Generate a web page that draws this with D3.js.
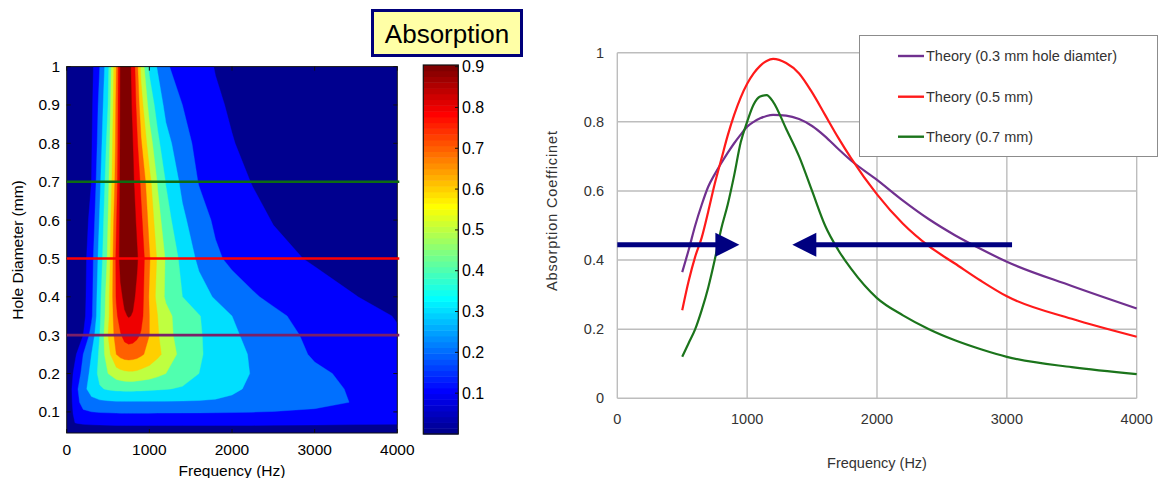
<!DOCTYPE html>
<meta charset="utf-8">
<style>
body { margin: 0; background: #fff; }
text { font-family: "Liberation Sans", Arial, sans-serif; }
</style>
<svg width="1159" height="478"></svg>
<script src="https://cdn.jsdelivr.net/npm/d3@7/dist/d3.min.js"></script>
<script>

// ---- contour map: absorption, rows = hole diameter (mm), columns = frequency (Hz)
var mapFreqs = [0, 100, 200, 300, 400, 500, 600, 650, 700, 750, 800, 850, 900, 1000, 1100, 1200, 1400, 1600, 1800, 2000, 2250, 2500, 3000, 3500, 4000];
var mapDiams = [0.045, 0.07, 0.095, 0.125, 0.16, 0.2, 0.25, 0.3, 0.35, 0.4, 0.5, 0.6, 0.7, 0.8, 0.9, 1.0];
var mapValues = [
  [0, 0.04, 0.055, 0.06, 0.06, 0.062, 0.063, 0.063, 0.064, 0.064, 0.064, 0.064, 0.064, 0.064, 0.064, 0.064, 0.063, 0.063, 0.063, 0.062, 0.062, 0.061, 0.06, 0.058, 0.056],
  [0, 0.098, 0.105, 0.107, 0.108, 0.109, 0.11, 0.11, 0.11, 0.11, 0.11, 0.11, 0.11, 0.11, 0.11, 0.11, 0.11, 0.11, 0.11, 0.11, 0.11, 0.109, 0.108, 0.106, 0.104],
  [0, 0.13, 0.175, 0.185, 0.19, 0.192, 0.194, 0.195, 0.195, 0.195, 0.195, 0.195, 0.195, 0.195, 0.194, 0.194, 0.193, 0.192, 0.191, 0.19, 0.188, 0.186, 0.18, 0.172, 0.163],
  [0, 0.15, 0.24, 0.27, 0.28, 0.285, 0.29, 0.29, 0.29, 0.29, 0.29, 0.29, 0.29, 0.29, 0.29, 0.29, 0.29, 0.29, 0.288, 0.282, 0.27, 0.255, 0.225, 0.195, 0.17],
  [0, 0.16, 0.27, 0.34, 0.39, 0.41, 0.42, 0.42, 0.425, 0.425, 0.425, 0.42, 0.42, 0.415, 0.41, 0.405, 0.39, 0.365, 0.34, 0.315, 0.285, 0.26, 0.225, 0.19, 0.17],
  [0, 0.13, 0.23, 0.33, 0.43, 0.5, 0.55, 0.565, 0.575, 0.58, 0.58, 0.575, 0.565, 0.55, 0.525, 0.5, 0.45, 0.4, 0.36, 0.33, 0.295, 0.265, 0.215, 0.18, 0.16],
  [0, 0.08, 0.2, 0.3, 0.42, 0.56, 0.7, 0.73, 0.745, 0.75, 0.745, 0.735, 0.715, 0.67, 0.62, 0.575, 0.46, 0.41, 0.37, 0.33, 0.29, 0.25, 0.19, 0.15, 0.12],
  [0, 0.04, 0.1, 0.24, 0.4, 0.6, 0.74, 0.79, 0.83, 0.845, 0.84, 0.82, 0.79, 0.7, 0.61, 0.54, 0.45, 0.41, 0.36, 0.315, 0.275, 0.235, 0.18, 0.135, 0.105],
  [0, 0.035, 0.07, 0.18, 0.38, 0.57, 0.78, 0.85, 0.89, 0.905, 0.895, 0.87, 0.83, 0.7, 0.6, 0.53, 0.45, 0.405, 0.35, 0.3, 0.26, 0.22, 0.16, 0.12, 0.097],
  [0, 0.03, 0.065, 0.17, 0.37, 0.56, 0.81, 0.88, 0.92, 0.93, 0.915, 0.885, 0.845, 0.69, 0.565, 0.485, 0.4, 0.34, 0.29, 0.245, 0.21, 0.18, 0.13, 0.101, 0.08],
  [0, 0.025, 0.06, 0.16, 0.34, 0.52, 0.82, 0.93, 0.96, 0.965, 0.95, 0.91, 0.86, 0.71, 0.585, 0.49, 0.37, 0.28, 0.215, 0.18, 0.15, 0.12, 0.092, 0.075, 0.064],
  [0, 0.02, 0.05, 0.13, 0.31, 0.5, 0.79, 0.925, 0.955, 0.955, 0.935, 0.885, 0.82, 0.67, 0.54, 0.44, 0.32, 0.24, 0.185, 0.152, 0.12, 0.097, 0.079, 0.066, 0.056],
  [0, 0.015, 0.04, 0.1, 0.28, 0.47, 0.75, 0.92, 0.95, 0.94, 0.915, 0.86, 0.78, 0.63, 0.49, 0.395, 0.275, 0.195, 0.155, 0.124, 0.097, 0.085, 0.068, 0.055, 0.047],
  [0, 0.013, 0.037, 0.09, 0.25, 0.44, 0.73, 0.917, 0.95, 0.937, 0.9, 0.817, 0.71, 0.547, 0.423, 0.333, 0.238, 0.172, 0.136, 0.103, 0.083, 0.076, 0.062, 0.051, 0.043],
  [0, 0.012, 0.033, 0.08, 0.23, 0.4, 0.72, 0.913, 0.95, 0.933, 0.885, 0.773, 0.64, 0.463, 0.357, 0.272, 0.2, 0.148, 0.11, 0.092, 0.08, 0.07, 0.056, 0.046, 0.04],
  [0, 0.01, 0.03, 0.07, 0.2, 0.37, 0.7, 0.91, 0.95, 0.93, 0.87, 0.73, 0.57, 0.38, 0.29, 0.21, 0.165, 0.125, 0.097, 0.085, 0.072, 0.063, 0.05, 0.042, 0.036]
];
var mapLevels = [0.1, 0.2, 0.3, 0.4, 0.5, 0.6, 0.7, 0.8, 0.9];
var mapTicksX = [0, 1000, 2000, 3000, 4000];
var mapTicksY = [0.1, 0.2, 0.3, 0.4, 0.5, 0.6, 0.7, 0.8, 0.9, 1];
var cbarTicks = [0.1, 0.2, 0.3, 0.4, 0.5, 0.6, 0.7, 0.8, 0.9];
var cbarMax = 0.904;
var markedDiams = [0.7, 0.5, 0.3];
var markedColors = ["#0d6b12", "#ff0000", "#7a2068"];

// ---- theory curves
var curveFreqs = [500, 550, 600, 650, 700, 750, 800, 850, 900, 950, 1000, 1050, 1100, 1150, 1200, 1300, 1400, 1500, 1600, 1700, 1800, 2000, 2200, 2400, 2600, 2800, 3000, 3500, 4000];
var theory03 = [0.365, 0.43, 0.5, 0.56, 0.612, 0.648, 0.68, 0.71, 0.738, 0.763, 0.786, 0.8, 0.81, 0.817, 0.82, 0.818, 0.808, 0.788, 0.758, 0.722, 0.688, 0.632, 0.572, 0.518, 0.472, 0.432, 0.395, 0.325, 0.26];
var theory05 = [0.255, 0.34, 0.41, 0.465, 0.54, 0.62, 0.69, 0.76, 0.82, 0.87, 0.91, 0.94, 0.962, 0.976, 0.982, 0.97, 0.94, 0.885, 0.82, 0.755, 0.695, 0.59, 0.505, 0.44, 0.39, 0.34, 0.295, 0.23, 0.178];
var theory07 = [0.12, 0.16, 0.2, 0.255, 0.32, 0.4, 0.49, 0.56, 0.645, 0.74, 0.8, 0.85, 0.873, 0.877, 0.858, 0.78, 0.7, 0.6, 0.5, 0.43, 0.375, 0.29, 0.24, 0.2, 0.168, 0.142, 0.12, 0.09, 0.07];
var seriesNames = ["Theory (0.3 mm hole diamter)", "Theory (0.5 mm)", "Theory (0.7 mm)"];
var seriesColors = ["#70308f", "#ff1a1a", "#1b741b"];
var lineTicksX = [0, 1000, 2000, 3000, 4000];
var lineTicksY = [0, 0.2, 0.4, 0.6, 0.8, 1];
var arrows = [{from: 0, to: 940, alpha: 0.444}, {from: 3040, to: 1348, alpha: 0.444}];

var svg = d3.select("svg");

// matlab jet(64)
function jet64() {
  var n = 16, u = [], i, k, map = [];
  for (i = 1; i <= n; i++) u.push(i / n);
  for (i = 1; i < n; i++) u.push(1);
  for (i = n; i >= 1; i--) u.push(i / n);
  for (k = 1; k <= 64; k++) {
    var r = k >= 25 ? u[k - 25] : 0;
    var g = (k >= 9 && k <= 55) ? u[k - 9] : 0;
    var b = k <= 39 ? u[k + 7] : 0;
    map.push(d3.rgb(r * 255, g * 255, b * 255).formatHex());
  }
  return map;
}
var jet = jet64();
function jetColor(v) { return jet[Math.max(0, Math.min(63, Math.floor(v / cbarMax * 64)))]; }

//-------------LEFT: CONTOUR MAP-------------------------
var xMap = d3.scaleLinear().domain([0, 4000]).range([66.7, 397.3]);
var yMap = d3.scaleLinear().domain([0.045, 1]).range([433, 66.6]);
var nx = mapFreqs.length, ny = mapDiams.length;
var colFreq = d3.scaleLinear().domain(d3.range(nx)).range(mapFreqs).clamp(true);
var rowDiam = d3.scaleLinear().domain(d3.range(ny)).range(mapDiams).clamp(true);

svg.append("clipPath").attr("id", "mapclip")
   .append("rect")
   .attr("x", xMap(0)).attr("y", yMap(1))
   .attr("width", xMap(4000) - xMap(0)).attr("height", yMap(0.045) - yMap(1));

var mapG = svg.append("g").attr("clip-path", "url(#mapclip)");
mapG.append("rect")
    .attr("x", xMap(0)).attr("y", yMap(1))
    .attr("width", xMap(4000) - xMap(0)).attr("height", yMap(0.045) - yMap(1))
    .attr("fill", jetColor(0));

var flat = [];
mapValues.forEach(function(row) { row.forEach(function(v) { flat.push(v); }); });
var bands = d3.contours().size([nx, ny]).thresholds(mapLevels)(flat);

function toPlot(p) { return [xMap(colFreq(p[0] - 0.5)), yMap(rowDiam(p[1] - 0.5))]; }
var path = d3.geoPath();

mapG.selectAll("path.band")
    .data(bands)
    .enter().append("path")
    .attr("class", "band")
    .attr("fill", function(d) { return jetColor(d.value); })
    .attr("stroke", function(d) { return jetColor(d.value); })
    .attr("stroke-width", 0.4)
    .attr("d", function(d) {
      var geom = {type: "MultiPolygon", coordinates: d.coordinates.map(function(poly) {
        return poly.map(function(ring) { return ring.map(toPlot); });
      })};
      return path(geom);
    });

// frame + inward ticks
svg.append("rect")
   .attr("x", xMap(0)).attr("y", yMap(1))
   .attr("width", xMap(4000) - xMap(0)).attr("height", yMap(0.045) - yMap(1))
   .attr("fill", "none").attr("stroke", "#111").attr("stroke-width", 1);

mapTicksX.forEach(function(t) {
  svg.append("line").attr("x1", xMap(t)).attr("x2", xMap(t)).attr("y1", yMap(0.045)).attr("y2", yMap(0.045) - 4).attr("stroke", "#111");
  svg.append("line").attr("x1", xMap(t)).attr("x2", xMap(t)).attr("y1", yMap(1)).attr("y2", yMap(1) + 4).attr("stroke", "#111");
  svg.append("text").attr("x", xMap(t)).attr("y", 455).attr("text-anchor", "middle")
     .attr("font-size", "15.5px").text(t);
});
mapTicksY.forEach(function(t) {
  svg.append("line").attr("x1", xMap(0)).attr("x2", xMap(0) + 4).attr("y1", yMap(t)).attr("y2", yMap(t)).attr("stroke", "#111");
  svg.append("line").attr("x1", xMap(4000)).attr("x2", xMap(4000) - 4).attr("y1", yMap(t)).attr("y2", yMap(t)).attr("stroke", "#111");
  svg.append("text").attr("x", 60).attr("y", yMap(t) + 5.5).attr("text-anchor", "end")
     .attr("font-size", "15.5px").text(t);
});

// marked hole diameters
svg.selectAll("line.mark")
   .data(markedDiams)
   .enter().append("line")
   .attr("class", "mark")
   .attr("x1", xMap(0)).attr("x2", xMap(4000) + 2)
   .attr("y1", function(d) { return yMap(d); })
   .attr("y2", function(d) { return yMap(d); })
   .attr("stroke", function(d, i) { return markedColors[i]; })
   .attr("stroke-width", 2.6);

svg.append("text").attr("x", 232).attr("y", 475.5).attr("text-anchor", "middle")
   .attr("font-size", "15.5px").text("Frequency (Hz)");
svg.append("text").attr("transform", "translate(23,250) rotate(-90)").attr("text-anchor", "middle")
   .attr("font-size", "15.5px").text("Hole Diameter (mm)");

// colorbar
var cScale = d3.scaleLinear().domain([0, cbarMax]).range([434, 65]);
svg.selectAll("rect.cb")
   .data(jet)
   .enter().append("rect")
   .attr("class", "cb")
   .attr("x", 423.3).attr("width", 35)
   .attr("y", function(d, i) { return cScale((i + 1) * cbarMax / 64); })
   .attr("height", function(d, i) { return cScale(i * cbarMax / 64) - cScale((i + 1) * cbarMax / 64) + 0.5; })
   .attr("fill", function(d) { return d; });
svg.append("rect").attr("x", 423.3).attr("y", 65).attr("width", 35).attr("height", 369)
   .attr("fill", "none").attr("stroke", "#111").attr("stroke-width", 1.2);
cbarTicks.forEach(function(t) {
  svg.append("line").attr("x1", 458.3).attr("x2", 455).attr("y1", cScale(t)).attr("y2", cScale(t)).attr("stroke", "#111");
  svg.append("text").attr("x", 462).attr("y", cScale(t) + 5.5).attr("font-size", "16px").text(t);
});

// title box
svg.append("rect").attr("x", 372.5).attr("y", 10.5).attr("width", 149).attr("height", 45)
   .attr("fill", "#ffffa6").attr("stroke", "#00007a").attr("stroke-width", 3);
svg.append("text").attr("x", 447).attr("y", 43).attr("text-anchor", "middle")
   .attr("font-size", "26px").text("Absorption");

//-------------RIGHT: THEORY CURVES-------------------------
var xLine = d3.scaleLinear().domain([0, 4000]).range([617.3, 1136.7]);
var yLine = d3.scaleLinear().domain([0, 1]).range([398.3, 52.7]);

svg.selectAll("line.hgrid").data(lineTicksY).enter().append("line")
   .attr("class", "hgrid")
   .attr("x1", xLine(0)).attr("x2", xLine(4000))
   .attr("y1", function(d) { return yLine(d); }).attr("y2", function(d) { return yLine(d); })
   .attr("stroke", "#bdbdbd").attr("stroke-width", 1.4);
svg.selectAll("line.vgrid").data(lineTicksX).enter().append("line")
   .attr("class", "vgrid")
   .attr("y1", yLine(0)).attr("y2", yLine(1))
   .attr("x1", function(d) { return xLine(d); }).attr("x2", function(d) { return xLine(d); })
   .attr("stroke", "#bdbdbd").attr("stroke-width", 1.4);

svg.selectAll("text.ly").data(lineTicksY).enter().append("text")
   .attr("class", "ly")
   .attr("x", 604).attr("y", function(d) { return yLine(d) + 5; })
   .attr("text-anchor", "end").attr("font-size", "14.5px").attr("fill", "#333")
   .text(function(d) { return d; });
svg.selectAll("text.lx").data(lineTicksX).enter().append("text")
   .attr("class", "lx")
   .attr("x", function(d) { return xLine(d); }).attr("y", 424)
   .attr("text-anchor", "middle").attr("font-size", "14.5px").attr("fill", "#333")
   .text(function(d) { return d; });

svg.append("text").attr("x", 877).attr("y", 468).attr("text-anchor", "middle")
   .attr("font-size", "14.5px").attr("fill", "#333").text("Frequency (Hz)");
svg.append("text").attr("transform", "translate(557,211) rotate(-90)").attr("text-anchor", "middle")
   .attr("font-size", "14.5px").attr("fill", "#333")
   .attr("textLength", 160).attr("lengthAdjust", "spacing")
   .text("Absorption Coefficinet");

var series = [theory03, theory05, theory07];
var line = d3.line()
  .x(function(d, i) { return xLine(curveFreqs[i]); })
  .y(function(d) { return yLine(d); })
  .curve(d3.curveMonotoneX);

svg.selectAll("path.theory").data(series).enter().append("path")
   .attr("class", "theory")
   .attr("d", line)
   .attr("fill", "none")
   .attr("stroke", function(d, i) { return seriesColors[i]; })
   .attr("stroke-width", 2.2);

// arrows
arrows.forEach(function(a) {
  var dir = a.to > a.from ? 1 : -1;
  var tipX = xLine(a.to), y = yLine(a.alpha), baseX = tipX - dir * 24;
  svg.append("line").attr("x1", xLine(a.from)).attr("x2", baseX + dir * 2)
     .attr("y1", y).attr("y2", y).attr("stroke", "#000080").attr("stroke-width", 5);
  svg.append("path")
     .attr("d", "M" + tipX + "," + y + "L" + baseX + "," + (y - 12) + "L" + baseX + "," + (y + 12) + "Z")
     .attr("fill", "#000080");
});

// legend
svg.append("rect").attr("x", 859.5).attr("y", 35.5).attr("width", 298).attr("height", 121)
   .attr("fill", "#fff").attr("stroke", "#8c8c8c").attr("stroke-width", 1);
var legendY = [56, 96.7, 136.7];
seriesNames.forEach(function(name, i) {
  svg.append("line").attr("x1", 898).attr("x2", 924).attr("y1", legendY[i]).attr("y2", legendY[i])
     .attr("stroke", seriesColors[i]).attr("stroke-width", 2.4);
  svg.append("text").attr("x", 926).attr("y", legendY[i] + 5).attr("font-size", "14.5px")
     .attr("fill", "#333").text(name);
});

</script>
